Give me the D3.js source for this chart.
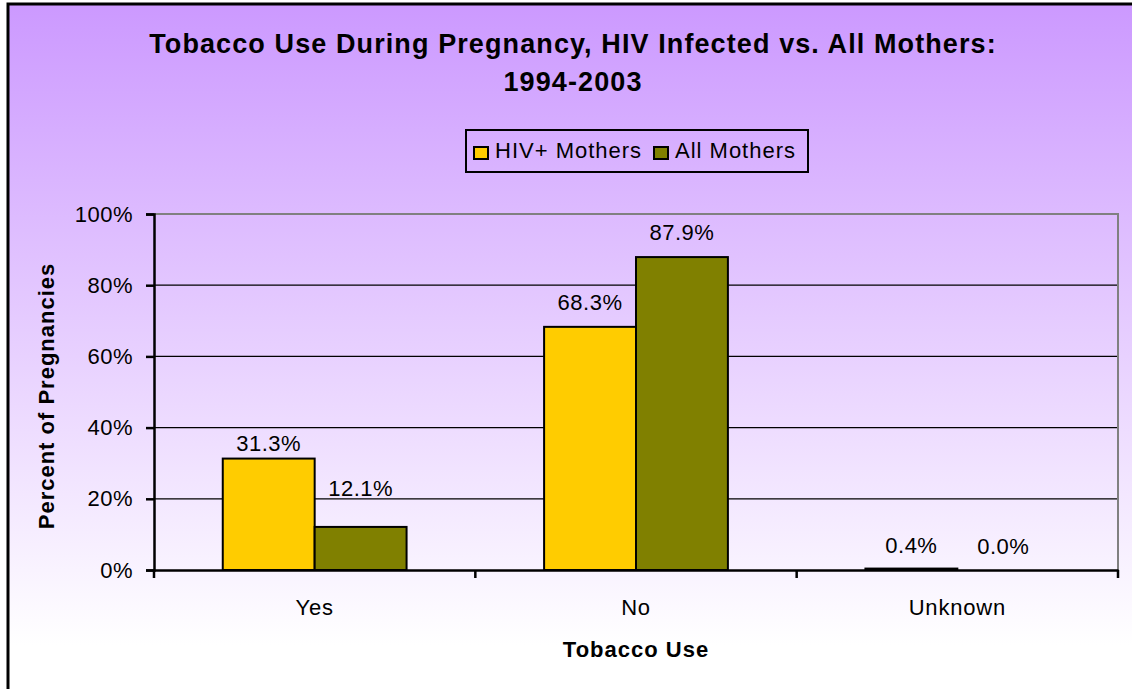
<!DOCTYPE html>
<html lang="en">
<head>
    <meta charset="UTF-8">
    <title>Tobacco Use During Pregnancy</title>
    <script src="https://cdn.jsdelivr.net/npm/d3@7"></script>
    <style>
        body { margin: 0; background: #fff; }
        svg { display: block; font-family: "Liberation Sans", Arial, sans-serif; }
    </style>
</head>
<body>
    <svg></svg>
    <script>
        // data
        let categories = ["Yes", "No", "Unknown"];
        let seriesNames = ["HIV+ Mothers", "All Mothers"];
        let hivValues = [31.3, 68.3, 0.4];
        let allValues = [12.1, 87.9, 0.0];
        let yTicks = [0, 20, 40, 60, 80, 100];
        let colors = ["#FFCC00", "#808000"];
        // gap between label baseline and bar top, per category / series (as in the original)
        let labelGap = [[8, 31], [17, 17], [16, 16]];

        let width = 1132, height = 689;
        let plot = {left: 154, right: 1118, top: 214, bottom: 570};
        let font = "Liberation Sans, Arial, sans-serif";

        let svg = d3.select("svg")
            .attr("width", width)
            .attr("height", height);

        // background gradient
        let defs = svg.append("defs");
        let grad = defs.append("linearGradient")
            .attr("id", "bg").attr("x1", 0).attr("y1", 0).attr("x2", 0).attr("y2", 1);
        grad.append("stop").attr("offset", "0%").attr("stop-color", "#CC99FF");
        grad.append("stop").attr("offset", "100%").attr("stop-color", "#FFFFFF");

        svg.append("rect")
            .attr("x", 8).attr("y", 4)
            .attr("width", width).attr("height", 641)
            .attr("fill", "url(#bg)");
        // outer border (only left + top are in frame)
        svg.append("path")
            .attr("d", "M8," + height + "V4H" + width)
            .attr("fill", "none").attr("stroke", "#000").attr("stroke-width", 3);

        // scales
        let x = d3.scaleBand().domain(categories).range([plot.left, plot.right]);
        let gap = x.bandwidth() * 0.214;
        let xs = d3.scaleBand().domain(seriesNames).range([gap, x.bandwidth() - gap]);
        let y = d3.scaleLinear().domain([0, 100]).range([plot.bottom, plot.top]);

        // gridlines
        svg.append("g").selectAll("line")
            .data(yTicks.filter(d => d > 0 && d < 100))
            .enter().append("line")
            .attr("x1", plot.left).attr("x2", plot.right)
            .attr("y1", d => y(d)).attr("y2", d => y(d))
            .attr("stroke", "#000").attr("stroke-width", 1.3);

        // plot border top/right
        svg.append("path")
            .attr("d", `M${plot.left},${plot.top}H${plot.right}V${plot.bottom}`)
            .attr("fill", "none").attr("stroke", "#808080").attr("stroke-width", 2);

        // bars
        let rows = categories.map((c, i) => ({cat: c, i: i, vals: [hivValues[i], allValues[i]]}));
        let groups = svg.append("g").selectAll("g")
            .data(rows).enter().append("g")
            .attr("transform", d => "translate(" + x(d.cat) + ",0)");

        groups.selectAll("rect")
            .data(d => d.vals.map((v, j) => ({name: seriesNames[j], v: v, j: j})))
            .enter().append("rect")
            .attr("x", d => xs(d.name))
            .attr("y", d => y(d.v))
            .attr("width", xs.bandwidth())
            .attr("height", d => y(0) - y(d.v))
            .attr("fill", d => colors[d.j])
            .attr("stroke", "#000").attr("stroke-width", 2);

        groups.selectAll("text")
            .data(d => d.vals.map((v, j) => ({name: seriesNames[j], v: v, g: labelGap[d.i][j]})))
            .enter().append("text")
            .attr("x", d => xs(d.name) + xs.bandwidth() / 2)
            .attr("y", d => y(d.v) - d.g)
            .attr("text-anchor", "middle")
            .attr("font-size", 22).attr("letter-spacing", 0.5)
            .text(d => d.v.toFixed(1) + "%");

        // y axis
        let yAxis = svg.append("g")
            .attr("transform", "translate(" + plot.left + ",0)")
            .call(d3.axisLeft(y).tickValues(yTicks).tickFormat(d => d + "%").tickSize(8).tickPadding(13));
        yAxis.select(".domain").attr("stroke-width", 2.5);
        yAxis.selectAll(".tick line").attr("stroke-width", 2.5);
        yAxis.selectAll("text").attr("font-size", 22).attr("letter-spacing", 0.5)
            .attr("font-family", font).attr("fill", "#000");

        // x axis
        let xAxis = svg.append("g")
            .attr("transform", "translate(0," + plot.bottom + ")")
            .call(d3.axisBottom(x).tickSize(0).tickPadding(29));
        xAxis.select(".domain").attr("stroke-width", 2.5);
        xAxis.selectAll("text").attr("font-size", 22).attr("letter-spacing", 0.8)
            .attr("font-family", font).attr("fill", "#000");
        // ticks at category boundaries
        let bounds = categories.map(c => x(c)).concat([plot.right]);
        svg.append("g").selectAll("line")
            .data(bounds).enter().append("line")
            .attr("x1", d => d).attr("x2", d => d)
            .attr("y1", plot.bottom).attr("y2", plot.bottom + 8)
            .attr("stroke", "#000").attr("stroke-width", 2.5);

        // titles
        let title = svg.append("text")
            .attr("text-anchor", "middle")
            .attr("font-size", 27).attr("font-weight", "bold").attr("letter-spacing", 1.1);
        title.append("tspan").attr("x", 573).attr("y", 53)
            .text("Tobacco Use During Pregnancy, HIV Infected vs. All Mothers:");
        title.append("tspan").attr("x", 573).attr("y", 91).text("1994-2003");

        svg.append("text")
            .attr("x", 636).attr("y", 657)
            .attr("text-anchor", "middle")
            .attr("font-size", 22).attr("font-weight", "bold").attr("letter-spacing", 1)
            .text("Tobacco Use");

        svg.append("text")
            .attr("transform", "translate(54,396) rotate(-90)")
            .attr("text-anchor", "middle")
            .attr("font-size", 22).attr("font-weight", "bold").attr("letter-spacing", 1)
            .text("Percent of Pregnancies");

        // legend
        let legend = svg.append("g");
        legend.append("rect")
            .attr("x", 466).attr("y", 130).attr("width", 342).attr("height", 42)
            .attr("fill", "none").attr("stroke", "#000").attr("stroke-width", 2);
        let legX = [474, 654];
        seriesNames.forEach((name, i) => {
            legend.append("rect")
                .attr("x", legX[i]).attr("y", 147).attr("width", 14).attr("height", 12)
                .attr("fill", colors[i]).attr("stroke", "#000").attr("stroke-width", 2);
            legend.append("text")
                .attr("x", legX[i] + 21).attr("y", 158)
                .attr("font-size", 22).attr("letter-spacing", 1)
                .text(name);
        });
    </script>
</body>
</html>
